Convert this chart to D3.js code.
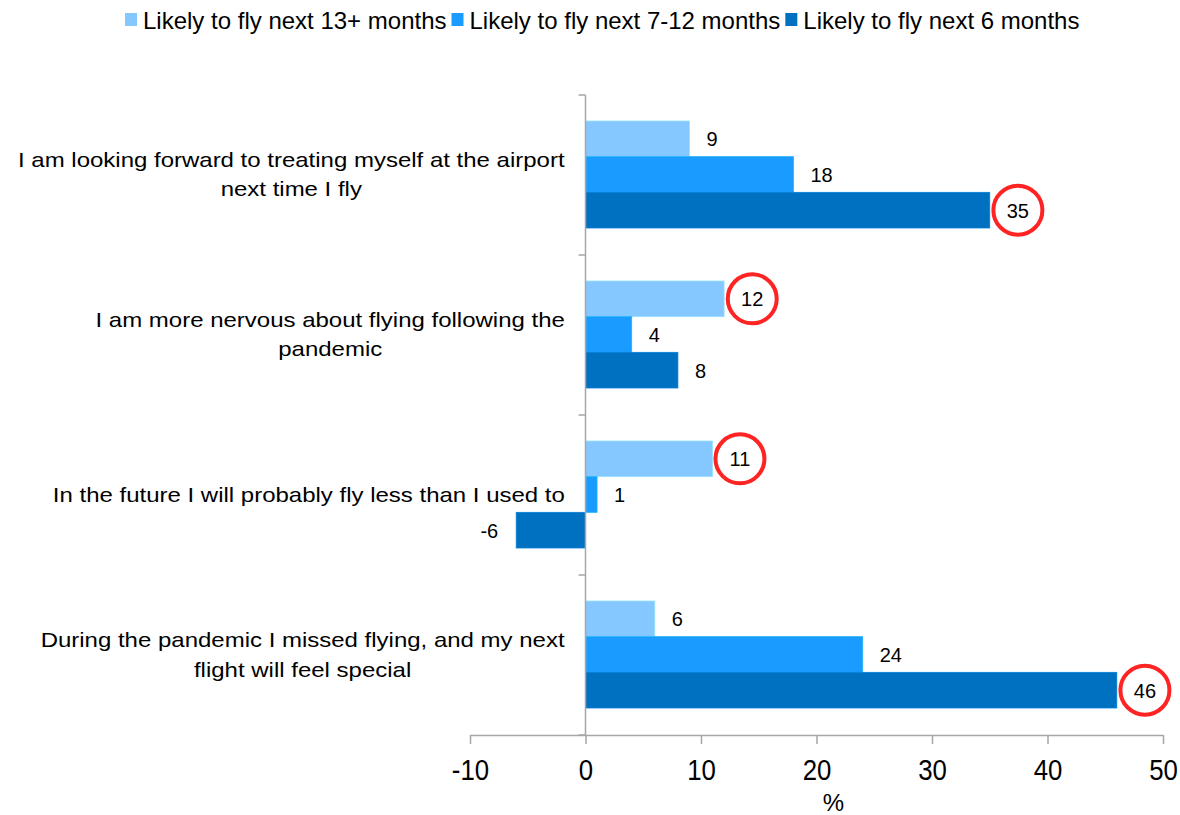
<!DOCTYPE html>
<html><head><meta charset="utf-8">
<script src="https://cdn.jsdelivr.net/npm/d3@7"></script>
<style>body{margin:0;background:#fff;}svg{display:block;font-family:"Liberation Sans",Arial,sans-serif;}</style>
</head><body>
<svg id="c" width="1180" height="815"></svg>
<script>
const categories = [
  ["I am looking forward to treating myself at the airport", "next time I fly"],
  ["I am more nervous about flying following the", "pandemic"],
  ["In the future I will probably fly less than I used to"],
  ["During the pandemic I missed flying, and my next", "flight will feel special"]
];
const seriesNames = ["Likely to fly next 13+ months", "Likely to fly next 7-12 months", "Likely to fly next 6 months"];
const seriesColors = ["#85C8FF", "#1A9BFF", "#0070C0"];
const values13plus = [9, 12, 11, 6];
const values7to12 = [18, 4, 1, 24];
const values6 = [35, 8, -6, 46];
const xTicks = [-10, 0, 10, 20, 30, 40, 50];
const highlights = [[0, 2], [1, 0], [2, 0], [3, 2]]; // [category, series]

const seriesValues = [values13plus, values7to12, values6];
const svg = d3.select("#c");
const x = d3.scaleLinear().domain([-10, 50]).range([470, 1163]);
const y0 = d3.scaleBand().domain(d3.range(categories.length)).range([95, 735]);
const y1 = d3.scaleBand().domain(d3.range(3)).range([26, 133]);
const axisColor = "#A6A6A6";

// bars + value labels
const labelNodes = [];
seriesValues.forEach((vals, s) => {
  svg.append("g").selectAll("rect").data(vals).join("rect")
    .attr("x", d => x(Math.min(0, d)))
    .attr("width", d => Math.abs(x(d) - x(0)))
    .attr("y", (d, i) => y0(i) + y1(s))
    .attr("height", y1.bandwidth())
    .attr("fill", seriesColors[s])
    .attr("stroke", d3.color(seriesColors[s]).brighter(0.35))
    .attr("stroke-width", 0.8);
  svg.append("g").selectAll("text").data(vals).join("text")
    .attr("x", d => d >= 0 ? x(d) + 17 : x(d) - 18)
    .attr("y", (d, i) => y0(i) + y1(s) + y1.bandwidth() / 2 + 7.5)
    .attr("text-anchor", d => d >= 0 ? "start" : "end")
    .attr("font-size", 20).attr("fill", "#000")
    .text(d => d)
    .each(function(d, i) { labelNodes.push({c: i, s: s, node: this}); });
});

// highlight circles (centred on the highlighted value labels)
highlights.forEach(([c, s]) => {
  const ln = labelNodes.find(l => l.c === c && l.s === s).node;
  const bb = ln.getBBox();
  svg.append("circle")
    .attr("cx", bb.x + bb.width / 2)
    .attr("cy", y0(c) + y1(s) + y1.bandwidth() / 2)
    .attr("r", 24.5)
    .attr("fill", "none").attr("stroke", "#FF2424").attr("stroke-width", 4);
});

// x axis
const xAxis = svg.append("g").attr("transform", "translate(0,735)")
  .call(d3.axisBottom(x).tickValues(xTicks).tickFormat(d => String(d)).tickSize(9).tickSizeOuter(0));
xAxis.select(".domain").attr("stroke", axisColor).attr("stroke-width", 1.5);
xAxis.selectAll(".tick line").attr("stroke", axisColor).attr("stroke-width", 1.5);
xAxis.selectAll(".tick text")
  .attr("font-size", 30).attr("fill", "#000").attr("font-family", "Liberation Sans, Arial, sans-serif")
  .attr("y", 0).attr("dy", 0)
  .attr("transform", "translate(0,45) scale(0.86,1)");

const xMid = (x.range()[0] + x.range()[1]) / 2;
svg.append("text").attr("x", xMid + 17).attr("y", 811).attr("text-anchor", "middle")
  .attr("font-size", 24).text("%");

// y axis
svg.append("line").attr("x1", x(0)).attr("x2", x(0)).attr("y1", 95).attr("y2", 735)
  .attr("stroke", axisColor).attr("stroke-width", 1.5);
const yTickPos = categories.map((c, i) => y0(i)).concat([y0.range()[1]]);
svg.append("g").selectAll("line").data(yTickPos).join("line")
  .attr("x1", x(0) - 7).attr("x2", x(0)).attr("y1", d => d).attr("y2", d => d)
  .attr("stroke", axisColor).attr("stroke-width", 1.5);

// category labels
categories.forEach((lines, i) => {
  const cy = y0(i) + y0.bandwidth() / 2;
  const lh = 29;
  const g = svg.append("g");
  const t = g.append("text").attr("font-size", 20).attr("fill", "#000").attr("text-anchor", "middle");
  lines.forEach((ln, k) => {
    t.append("tspan").attr("x", 0).attr("y", cy + 7 - (lines.length - 1) * lh / 2 + k * lh).text(ln);
  });
  const w = t.node().getBBox().width;
  t.selectAll("tspan").attr("x", -w / 2);
  g.attr("transform", `translate(565,0) scale(1.2,1)`);
});

// legend
const leg = svg.append("g").attr("transform", "translate(0,20)");
let lx = 125;
seriesNames.forEach((n, s) => {
  leg.append("rect").attr("x", lx).attr("y", -7).attr("width", 12).attr("height", 13).attr("fill", seriesColors[s]);
  const t = leg.append("text").attr("x", lx + 18).attr("y", 8.5).attr("font-size", 24).text(n);
  lx += 18 + t.node().getComputedTextLength() + 5;
});
</script>
</body></html>
